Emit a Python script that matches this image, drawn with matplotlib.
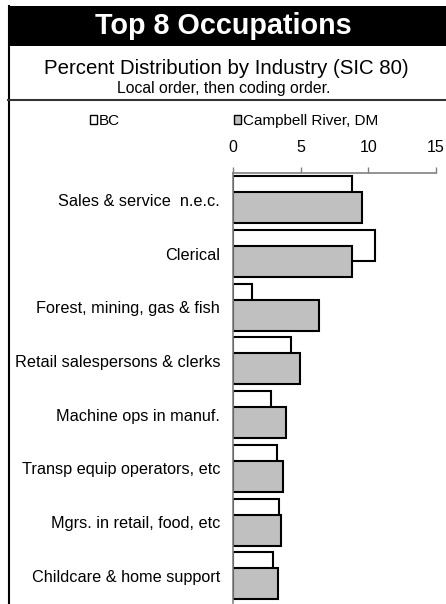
import matplotlib
matplotlib.use("Agg")
import matplotlib.pyplot as plt
from matplotlib.patches import Rectangle, Patch
from matplotlib.lines import Line2D
import numpy as np

plt.rcParams['font.family'] = ['Liberation Sans', 'DejaVu Sans']

# data
occupations = ['Sales & service  n.e.c.', 'Clerical', 'Forest, mining, gas & fish',
               'Retail salespersons & clerks', 'Machine ops in manuf.',
               'Transp equip operators, etc', 'Mgrs. in retail, food, etc',
               'Childcare & home support']
bc = [8.8, 10.5, 1.4, 4.25, 2.8, 3.2, 3.35, 2.95]
campbell_river = [9.5, 8.8, 6.35, 4.95, 3.9, 3.7, 3.55, 3.3]
series_names = ['BC', 'Campbell River, DM']
xticks = [0, 5, 10, 15]

W, H = 446, 604
fig = plt.figure(figsize=(W / 100, H / 100), dpi=100)

def fx(px):
    return px / W

def fy(py):
    return 1 - py / H

# frame: black title band, subtitle box, side border
fig.patches.append(Rectangle((fx(8), fy(46)), fx(446 - 8), 40 / H, transform=fig.transFigure,
                             facecolor='black', edgecolor='none'))
fig.lines.append(Line2D([fx(8.5), fx(8.5)], [fy(6), 0], transform=fig.transFigure, color='black', lw=1.5))
fig.lines.append(Line2D([fx(8), 1], [fy(100), fy(100)], transform=fig.transFigure, color='#333333', lw=1.5))

fig.text(fx(223), fy(26), 'Top 8 Occupations', color='white', fontsize=20.7, fontweight='bold',
         ha='center', va='center')
fig.text(fx(226), fy(69), 'Percent Distribution by Industry (SIC 80)', fontsize=14.7,
         ha='center', va='center')
fig.text(fx(224), fy(88), 'Local order, then coding order.', fontsize=11.3,
         ha='center', va='center')

# axes
ax = fig.add_axes([fx(233.3), fy(602.6), fx(436 - 233.3), 429.6 / H])
y = np.arange(len(occupations))
h = 0.577
off = 0.149
ax.barh(y - off, bc, height=h, color='white', edgecolor='black', linewidth=1.5, label=series_names[0])
ax.barh(y + off, campbell_river, height=h, color='#C0C0C0', edgecolor='black', linewidth=1.5,
        label=series_names[1])

ax.set_xlim(0, 15)
ax.set_ylim(7.5, -0.5)
ax.set_xticks(xticks)
ax.xaxis.tick_top()
ax.tick_params(axis='x', direction='out', length=4, width=1, color='#808080', labelsize=11.5, pad=9)
ax.set_yticks(y)
ax.set_yticklabels(occupations, fontsize=11.7)
ax.tick_params(axis='y', length=0, pad=9.4)
for s in ['right', 'bottom']:
    ax.spines[s].set_visible(False)
ax.spines['top'].set_color('#808080')
ax.spines['left'].set_color('#808080')
ax.spines['top'].set_linewidth(1.2)
ax.spines['left'].set_linewidth(1.2)

handles = [Patch(facecolor='white', edgecolor='black', linewidth=1),
           Patch(facecolor='#C0C0C0', edgecolor='black', linewidth=1)]
fig.legend(handles, series_names, loc='center left', bbox_to_anchor=(fx(90), fy(121)),
           ncol=2, frameon=False, fontsize=11, handlelength=0.48, handleheight=0.48,
           handletextpad=0.12, columnspacing=7.45, borderpad=0, borderaxespad=0)

fig.savefig('out.png', dpi=100)
